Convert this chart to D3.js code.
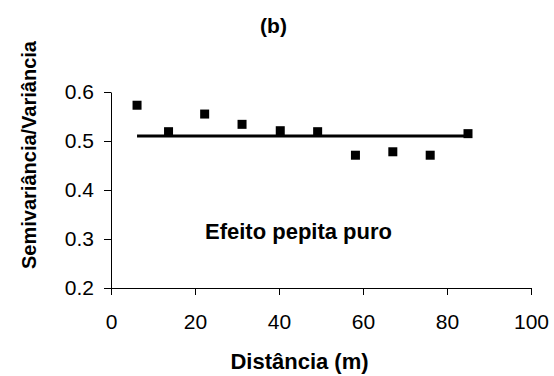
<!DOCTYPE html>
<html>
<head>
<meta charset="utf-8">
<script src="https://cdn.jsdelivr.net/npm/d3@7"></script>
<style>
  body { margin: 0; background: #fff; }
  text { font-family: "Liberation Sans", Arial, sans-serif; fill: #000; }
</style>
</head>
<body>
<div id="chart"></div>
<script>
// data
var distancias = [6.2, 13.7, 22.3, 31.2, 40.3, 49.2, 58.2, 67.1, 76.0, 85.0];
var razao = [0.573, 0.519, 0.555, 0.534, 0.521, 0.519, 0.471, 0.478, 0.471, 0.515];
var patamar = 0.51;
var xTicks = [0, 20, 40, 60, 80, 100];
var yTicks = [0.2, 0.3, 0.4, 0.5, 0.6];

var margin = {top: 92, right: 23, bottom: 88, left: 111},
    width = 531 - margin.left,
    height = 288 - margin.top;

var svg = d3.select("#chart")
  .append("svg")
    .attr("width", 554)
    .attr("height", 376);

var g = svg.append("g")
    .attr("transform", "translate(" + margin.left + "," + margin.top + ")");

var x = d3.scaleLinear().domain([0, 100]).range([0, width]);
var y = d3.scaleLinear().domain([0.2, 0.6]).range([height, 0]);

// X axis
var xAxis = g.append("g")
    .attr("transform", "translate(0," + height + ")")
    .call(d3.axisBottom(x).tickValues(xTicks).tickSize(7).tickPadding(19)
      .tickFormat(d3.format("d")).tickSizeOuter(0));
xAxis.selectAll("text").style("font-size", "21px");

// Y axis
var yAxis = g.append("g")
    .call(d3.axisLeft(y).tickValues(yTicks).tickSize(7).tickPadding(10)
      .tickFormat(d3.format(".1f")).tickSizeOuter(0));
yAxis.selectAll("text").style("font-size", "21px");

svg.selectAll(".domain, .tick line").attr("stroke", "#000").attr("stroke-width", 1);

// nugget line
g.append("line")
    .attr("x1", x(distancias[0]))
    .attr("x2", x(distancias[distancias.length - 1]))
    .attr("y1", y(patamar))
    .attr("y2", y(patamar))
    .attr("stroke", "#000")
    .attr("stroke-width", 3);

// points
var pts = distancias.map(function(d, i) { return {x: d, y: razao[i]}; });
g.selectAll("rect.pt")
  .data(pts)
  .enter()
  .append("rect")
    .attr("class", "pt")
    .attr("x", function(d) { return x(d.x) - 4.5; })
    .attr("y", function(d) { return y(d.y) - 4.5; })
    .attr("width", 9)
    .attr("height", 9)
    .attr("fill", "#000");

// annotation
g.append("text")
    .attr("x", 298.5 - margin.left)
    .attr("y", 239 - margin.top)
    .attr("text-anchor", "middle")
    .style("font-size", "22px")
    .style("font-weight", "bold")
    .text("Efeito pepita puro");

// title
svg.append("text")
    .attr("x", 273.5)
    .attr("y", 33)
    .attr("text-anchor", "middle")
    .style("font-size", "21px")
    .style("font-weight", "bold")
    .text("(b)");

// axis titles
svg.append("text")
    .attr("x", 299.5)
    .attr("y", 369)
    .attr("text-anchor", "middle")
    .style("font-size", "22px")
    .style("font-weight", "bold")
    .text("Distância (m)");

svg.append("text")
    .attr("transform", "translate(36,155)rotate(-90)")
    .attr("text-anchor", "middle")
    .style("font-size", "20px")
    .style("font-weight", "bold")
    .text("Semivariância/Variância");
</script>
</body>
</html>
